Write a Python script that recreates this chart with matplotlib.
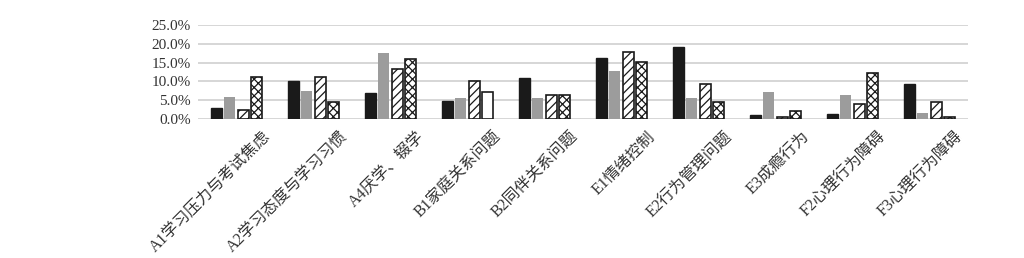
import matplotlib.pyplot as plt
import numpy as np
from matplotlib.ticker import PercentFormatter
from matplotlib.transforms import ScaledTranslation

plt.rcParams['font.family'] = ['Liberation Serif', 'Noto Sans CJK SC']
plt.rcParams['hatch.linewidth'] = 0.9

categories = ['A1学习压力与考试焦虑', 'A2学习态度与学习习惯', 'A4厌学、辍学', 'B1家庭关系问题',
              'B2同伴关系问题', 'E1情绪控制', 'E2行为管理问题', 'E3成瘾行为',
              'F2心理行为障碍', 'F3心理行为障碍']
s1 = [2.9, 10.0, 6.9, 4.9, 10.9, 16.1, 19.2, 1.1, 1.3, 9.3]
s2 = [5.8, 7.5, 17.5, 5.5, 5.5, 12.8, 5.5, 7.2, 6.4, 1.6]
s3 = [2.4, 11.3, 13.3, 10.0, 6.4, 17.8, 9.4, 0.5, 4.0, 4.6]
s4 = [11.3, 4.4, 15.9, 7.1, 6.5, 15.1, 4.4, 2.2, 12.2, 0.4]

fig = plt.figure(figsize=(10.24, 2.58), dpi=100)
ax = fig.add_axes([198 / 1024, 1 - 119 / 258, 770 / 1024, 94 / 258])

x = np.arange(len(categories))
step = 0.175
w = 0.145
ax.bar(x - 1.5 * step, s1, w, color='#1a1a1a', edgecolor='#1a1a1a', zorder=3)
ax.bar(x - 0.5 * step, s2, w, color='#9c9c9c', zorder=3)
ax.bar(x + 0.5 * step, s3, w, color='white', edgecolor='#1a1a1a', hatch='////', linewidth=1.2, zorder=3)
b4 = ax.bar(x + 1.5 * step, s4, w, color='white', edgecolor='#1a1a1a', hatch='xxxx', linewidth=1.2, zorder=3)
b4[3].set_hatch('')  # B1 bar is drawn plain white in the source

ax.set_xlim(-0.5, len(categories) - 0.5)
ax.set_ylim(0, 25)
ax.set_yticks(np.arange(0, 26, 5))
ax.yaxis.set_major_formatter(PercentFormatter(decimals=1))
ax.grid(axis='y', color='#d0d0d0', linewidth=1.2, zorder=0)
for s in ax.spines.values():
    s.set_visible(False)
ax.tick_params(axis='both', length=0, labelsize=11, colors='#333333')
ax.tick_params(axis='y', pad=5)

ax.set_xticks(x)
ax.set_xticklabels(categories, rotation=45, ha='right', va='top', rotation_mode='anchor',
                   fontsize=11.5)
off = ScaledTranslation(26 / 100, -5 / 100, fig.dpi_scale_trans)
for lab in ax.get_xticklabels():
    lab.set_transform(lab.get_transform() + off)

fig.savefig('out.png', dpi=100)
